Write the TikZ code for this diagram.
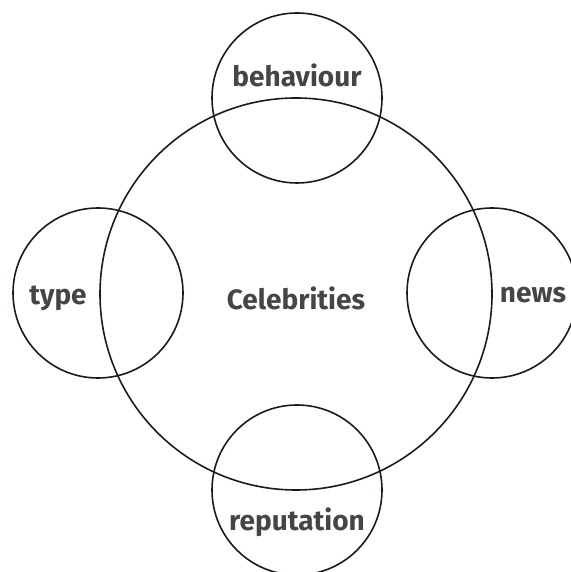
\documentclass[tikz,border=0pt]{standalone}
\usepackage{fontspec}
\setmainfont{Fira Sans}
\usetikzlibrary{positioning}
\definecolor{inkgray}{HTML}{454545}
\definecolor{ringline}{HTML}{1E1A1A}

\begin{document}
\begin{tikzpicture}[x=1pt,y=1pt,
  ring/.style={circle,draw=ringline,line width=1.6pt,inner sep=0pt},
  word/.style={font=\fontsize{28}{32}\selectfont\bfseries,text=inkgray}]
\useasboundingbox (0,0) rectangle (570,572);
\node[ring,minimum size=392pt] (celebs) at (296,278) {};
\node[ring,minimum size=170pt] (behav) at (297,474) {};
\node[ring,minimum size=170pt] (typ) at (98,279) {};
\node[ring,minimum size=170pt] (nws) at (492,279) {};
\node[ring,minimum size=170pt] (reput) at (297,82) {};

\node[word] (celebsT) at (296,274) {Celebrities};
\node[word] (behavT) at (297,497) {behaviour};
\node[word] (typT) at (58,274) {type};
\node[word] (nwsT) at (533,277) {news};
\node[word] (reputT) at (297,50) {reputation};
\end{tikzpicture}
\end{document}
